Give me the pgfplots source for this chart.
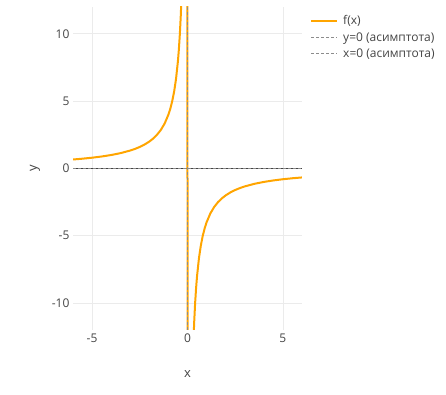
\documentclass[border=0pt]{standalone}
\usepackage{pgfplots}
\pgfplotsset{compat=1.18}
\usepackage{fontspec}
\setmainfont{Open Sans}
\definecolor{txt}{HTML}{444444}
\definecolor{gridc}{HTML}{EBEBEB}
\definecolor{fcol}{HTML}{FFA500}
\definecolor{asym}{HTML}{8C8C8C}
\begin{document}
\begin{tikzpicture}
\path[use as bounding box] (0,0) rectangle (446pt,394pt);
\begin{axis}[
  at={(73pt,64pt)}, anchor=south west,
  scale only axis, width=229pt, height=323pt,
  xmin=-6, xmax=6, ymin=-12, ymax=12,
  xtick={-5,0,5}, ytick={-10,-5,0,5,10},
  axis line style={draw=none},
  major tick length=0pt,
  grid=major, grid style={color=gridc, line width=0.8pt},
  tick label style={font=\fontsize{12}{14}\selectfont, text=txt},
  /pgf/number format/assume math mode=true,
  yticklabel style={/pgf/number format/.cd, fixed},
  xlabel={x}, ylabel={y},
  label style={font=\fontsize{13}{15}\selectfont, text=txt},
  xlabel style={at={(axis description cs:0.5,-0.136)}, anchor=center},
  ylabel style={at={(axis description cs:-0.166,0.5)}, anchor=center},
  legend style={at={(axis description cs:1.035,0.98)}, anchor=north west,
    draw=none, fill=none, font=\fontsize{12}{14}\selectfont, text=txt,
    row sep=2pt, inner sep=0pt, nodes={inner xsep=5pt}},
  legend cell align=left,
  legend image code/.code={\draw[#1] (0pt,0pt) -- (26pt,0pt);},
  clip=true,
]
\addplot[draw=txt, line width=1pt, forget plot] coordinates {(-6,0) (6,0)};
\addplot[color=fcol, line width=2pt] coordinates {
(-6,0.6667) (-5.5,0.7273) (-5,0.8) (-4.5,0.8889) (-4,1) (-3.5,1.1429) (-3,1.3333)
(-2.75,1.4545) (-2.5,1.6) (-2.25,1.7778) (-2,2) (-1.8,2.2222) (-1.6,2.5) (-1.4,2.8571)
(-1.2,3.3333) (-1,4) (-0.9,4.4444) (-0.8,5) (-0.7,5.7143) (-0.6,6.6667) (-0.5,8)
(-0.45,8.8889) (-0.4,10) (-0.35,11.4286) (-0.3,13.3333) (-0.25,16) (-0.1,40) (-0.02,200)
(0.02,-200) (0.1,-40) (0.25,-16) (0.3,-13.3333) (0.35,-11.4286) (0.4,-10) (0.45,-8.8889)
(0.5,-8) (0.6,-6.6667) (0.7,-5.7143) (0.8,-5) (0.9,-4.4444) (1,-4) (1.2,-3.3333)
(1.4,-2.8571) (1.6,-2.5) (1.8,-2.2222) (2,-2) (2.25,-1.7778) (2.5,-1.6) (2.75,-1.4545)
(3,-1.3333) (3.5,-1.1429) (4,-1) (4.5,-0.8889) (5,-0.8) (5.5,-0.7273) (6,-0.6667)
};
\addlegendentry{f(x)}
\addplot[color=asym, line width=1.5pt, dash pattern=on 3pt off 2pt] coordinates {(-6,0) (6,0)};
\addlegendentry{y=0 (асимптота)}
\addplot[color=asym, line width=1.5pt, dash pattern=on 3pt off 2pt] coordinates {(0,-12) (0,12)};
\addlegendentry{x=0 (асимптота)}
\end{axis}
\end{tikzpicture}
\end{document}
